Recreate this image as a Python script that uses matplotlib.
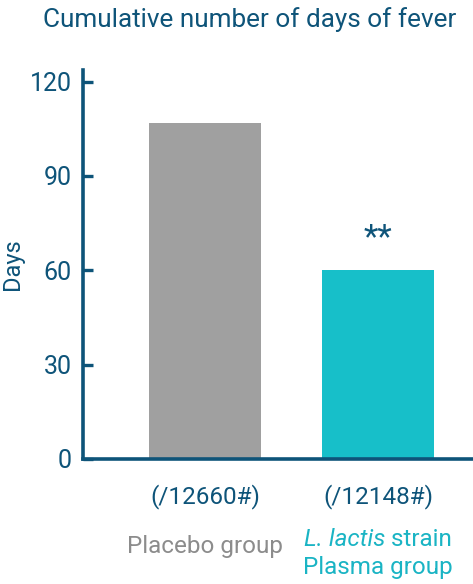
import matplotlib
matplotlib.use("Agg")
import matplotlib.pyplot as plt

plt.rcParams['font.family'] = ['Roboto', 'DejaVu Sans']

categories = ["Placebo group", "L. lactis strain\nPlasma group"]
counts = ["(/12660#)", "(/12148#)"]
values = [107, 60]
yticks = [0, 30, 60, 90, 120]
significance = "**"

DARK = "#0e5479"
BAR_COLORS = ["#a0a0a0", "#17bfc9"]
LABEL_COLORS = ["#8c8c8c", "#1ab4c4"]

fig = plt.figure(figsize=(4.73, 5.84), dpi=100)
ax = fig.add_axes([83/473, 125/584, (473-83)/473, (459-70)/584])

x = [0, 1]
ax.bar(x, values, width=0.65, color=BAR_COLORS, zorder=2)
ax.set_xlim(-0.705, 1.549)
ax.set_ylim(0, 123.7)
ax.set_yticks(yticks)
ax.set_yticklabels([str(t) for t in yticks])
ax.set_xticks([])

for s in ["top", "right"]:
    ax.spines[s].set_visible(False)
for s in ["left", "bottom"]:
    ax.spines[s].set_color(DARK)
    ax.spines[s].set_linewidth(2.6)

ax.tick_params(axis='y', direction='in', length=7, width=2.4, color=DARK,
               labelcolor=DARK, labelsize=18, pad=8)
ax.set_ylabel("Days", color=DARK, fontsize=17, labelpad=4)

ax.text(1, values[1] + 5, significance, ha='center', va='bottom',
        color=DARK, fontsize=24)

fig.text(250/473, 1 - 20/584, "Cumulative number of days of fever",
         ha='center', va='center', color=DARK, fontsize=18.8)

for i in range(2):
    ax.annotate(counts[i], xy=(x[i], 0), xycoords=('data', 'axes fraction'),
                xytext=(0, -27), textcoords='offset points',
                ha='center', va='center', color=DARK, fontsize=17.5)

ax.annotate("Placebo group", xy=(x[0], 0), xycoords=('data', 'axes fraction'),
            xytext=(0, -63), textcoords='offset points',
            ha='center', va='center', color=LABEL_COLORS[0], fontsize=17.5)

# second category, with italic species name
fig.canvas.draw()
t1 = ax.annotate("L. lactis", xy=(x[1], 0), xycoords=('data', 'axes fraction'),
                 xytext=(0, -58), textcoords='offset points',
                 ha='center', va='center', color=LABEL_COLORS[1], fontsize=17.5,
                 fontstyle='italic')
t2 = ax.annotate(" strain", xy=(x[1], 0), xycoords=('data', 'axes fraction'),
                 xytext=(0, -58), textcoords='offset points',
                 ha='center', va='center', color=LABEL_COLORS[1], fontsize=17.5)
fig.canvas.draw()
r = fig.canvas.get_renderer()
w1 = t1.get_window_extent(r).width
w2 = t2.get_window_extent(r).width
tot = w1 + w2
pt = 72 / fig.dpi
t1.set_position((-(tot / 2 - w1 / 2) * pt, -58))
t2.set_position(((tot / 2 - w2 / 2) * pt, -58))
ax.annotate("Plasma group", xy=(x[1], 0), xycoords=('data', 'axes fraction'),
            xytext=(0, -78), textcoords='offset points',
            ha='center', va='center', color=LABEL_COLORS[1], fontsize=17.5)

fig.savefig("out.png", dpi=100)
